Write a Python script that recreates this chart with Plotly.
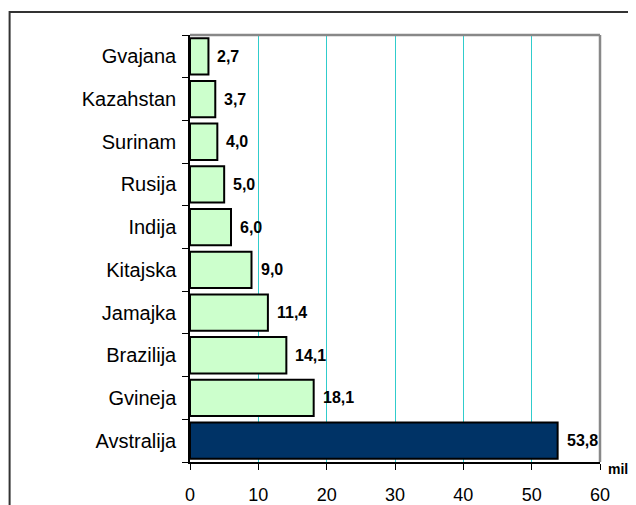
import plotly.graph_objects as go

countries = ["Avstralija", "Gvineja", "Brazilija", "Jamajka", "Kitajska", "Indija", "Rusija", "Surinam", "Kazahstan", "Gvajana"]
values = [53.8, 18.1, 14.1, 11.4, 9.0, 6.0, 5.0, 4.0, 3.7, 2.7]
colors = ["#003366"] + ["#CCFFCC"] * 9
x_ticks = [0, 10, 20, 30, 40, 50, 60]
unit_label = "mil."

FONT = "Liberation Sans, Arial, sans-serif"

fig = go.Figure()
fig.add_trace(go.Bar(
    y=countries, x=values, orientation="h",
    marker=dict(color=colors, line=dict(color="black", width=2)),
    width=0.85, hoverinfo="skip",
))

for c, v in zip(countries, values):
    fig.add_annotation(x=v, y=c, text="<b>" + f"{v:.1f}".replace(".", ",") + "</b>",
                       showarrow=False, xanchor="left", xshift=7,
                       font=dict(family=FONT, size=16, color="black"))

fig.add_annotation(xref="paper", yref="paper", x=1.015, y=-0.016, text="<b>" + unit_label + "</b>",
                   showarrow=False, xanchor="left", yanchor="middle",
                   font=dict(family=FONT, size=14, color="black"))

# outer frame
fig.add_shape(type="rect", xref="paper", yref="paper", x0=-0.440, x1=1.3, y0=-0.3, y1=1.054,
              line=dict(color="#333333", width=2), fillcolor="rgba(0,0,0,0)", layer="below")
# plot area right and top borders
fig.add_shape(type="line", xref="paper", yref="paper", x0=1, x1=1, y0=0, y1=1,
              line=dict(color="#888888", width=2.5))
fig.add_shape(type="line", xref="paper", yref="paper", x0=0, x1=1, y0=1, y1=1,
              line=dict(color="#888888", width=2.5))

fig.update_layout(
    width=628, height=497,
    margin=dict(l=182, r=36, t=27, b=43),
    paper_bgcolor="white", plot_bgcolor="white",
    showlegend=False,
    font=dict(family=FONT, size=20, color="black"),
    xaxis=dict(range=[0, 60], tickvals=x_ticks, showgrid=True, gridcolor="#30CCCC", gridwidth=1.2,
               showline=True, linecolor="black", linewidth=1.5, ticks="outside", ticklen=6,
               tickcolor="black", zeroline=False, tickfont=dict(size=18), ticklabelstandoff=10,
               automargin=False),
    yaxis=dict(showline=True, linecolor="black", linewidth=1.5, ticks="outside", ticklen=6,
               tickcolor="black", tickson="boundaries", showgrid=False,
               tickfont=dict(size=20), ticklabelstandoff=8, automargin=False),
    bargap=0.15,
)

fig.write_html("out.html")
